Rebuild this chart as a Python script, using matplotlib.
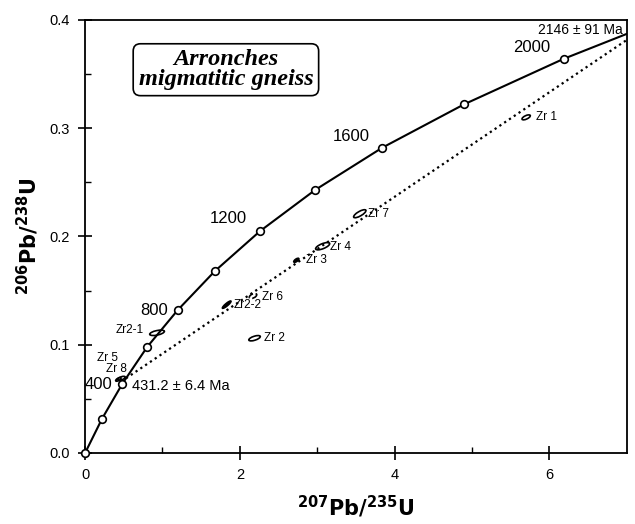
import matplotlib
matplotlib.use("Agg")
import matplotlib.pyplot as plt
from matplotlib.patches import Ellipse
from matplotlib.transforms import ScaledTranslation

plt.rcParams['font.family'] = ['Liberation Sans', 'DejaVu Sans']

# concordia markers (age in Ma, 207Pb/235U, 206Pb/238U)
ages = [0, 200, 400, 600, 800, 1000, 1200, 1400, 1600, 1800, 2000]
conc_x = [0.0, 0.218, 0.482, 0.803, 1.197, 1.677, 2.262, 2.974, 3.841, 4.897, 6.183]
conc_y = [0.0, 0.0315, 0.064, 0.098, 0.132, 0.168, 0.205, 0.243, 0.282, 0.322, 0.364]
labelled_ages = [400, 800, 1200, 1600, 2000]
# label offsets from the marker (dx, dy), text is right aligned
label_dx = [-0.13, -0.12, -0.17, -0.16, -0.17]
label_dy = [-0.001, 0.0, 0.0115, 0.0105, 0.0105]

# intercepts of the discordia
lower = (0.529, 0.069)
upper = (7.28, 0.395)

# zircon analyses: name, x, y, long axis px, short axis px, angle, style
zr_names = ['Zr 1', 'Zr 7', 'Zr 4', 'Zr 3', 'Zr 6', 'Zr2-2', 'Zr 2', 'Zr2-1', 'Zr 8', 'Zr 5']
zr_x = [5.70, 3.55, 3.07, 2.73, 2.17, 1.83, 2.19, 0.93, 0.47, 0.43]
zr_y = [0.310, 0.221, 0.191, 0.178, 0.145, 0.137, 0.106, 0.111, 0.069, 0.068]
zr_w = [9, 14, 15, 6, 8, 11, 12, 15, 8, 6]
zr_h = [3.5, 4.5, 5, 2.5, 4, 2.5, 4, 4.5, 3, 2.5]
zr_ang = [25, 30, 22, 35, 25, 40, 18, 12, 20, 30]
zr_fill = [False, False, False, True, False, True, False, False, False, False]
zr_dash = [False, False, False, False, True, False, False, False, False, False]
lab_x = [5.83, 3.66, 3.17, 2.86, 2.28, 1.92, 2.31, 0.76, 0.27, 0.16]
lab_y = [0.310, 0.221, 0.190, 0.178, 0.144, 0.137, 0.106, 0.1135, 0.0775, 0.0875]
lab_ha = ['left'] * 7 + ['right', 'left', 'left']

fig = plt.figure(figsize=(6.35, 5.24), dpi=100)
ax = fig.add_axes([0.134, 0.1355, 0.853, 0.8265])

# concordia curve
ax.plot(conc_x + [upper[0]], conc_y + [upper[1]], color='black', lw=1.5, zorder=3)
ax.plot(conc_x, conc_y, 'o', ms=5.5, mfc='white', mec='black', mew=1.2,
        zorder=4, clip_on=False)

# discordia
ax.plot([lower[0], upper[0]], [lower[1], upper[1]], color='black', lw=1.6,
        ls=(0, (1, 1.6)), zorder=2)

for a, dx, dy in zip(labelled_ages, label_dx, label_dy):
    i = ages.index(a)
    ax.text(conc_x[i] + dx, conc_y[i] + dy, str(a), fontsize=12,
            ha='right', va='center')

ax.text(lower[0] + 0.08, lower[1] - 0.007, '431.2 ± 6.4 Ma', fontsize=10.5,
        ha='left', va='center')
ax.text(6.95, 0.391, '2146 ± 91 Ma', fontsize=10, ha='right', va='center')

for i, name in enumerate(zr_names):
    tr = fig.dpi_scale_trans + ScaledTranslation(zr_x[i], zr_y[i], ax.transData)
    e = Ellipse((0, 0), zr_w[i] / 100, zr_h[i] / 100, angle=zr_ang[i],
                transform=tr, facecolor='black' if zr_fill[i] else 'none',
                edgecolor='black', lw=1.2, ls='--' if zr_dash[i] else '-',
                zorder=5)
    ax.add_patch(e)
    ax.text(lab_x[i], lab_y[i], name, fontsize=8.5, ha=lab_ha[i], va='center',
            family=['Liberation Sans Narrow', 'Liberation Sans'])

ax.text(0.26, 0.885, 'Arronches\nmigmatitic gneiss', transform=ax.transAxes,
        ha='center', va='center', fontsize=17.5, fontweight='bold',
        fontstyle='italic', family=['Liberation Serif'], linespacing=0.95,
        bbox=dict(boxstyle='round,pad=0.22,rounding_size=0.3', fc='white',
                  ec='black', lw=1.2))

ax.set_xlim(0, 7)
ax.set_ylim(0, 0.4)
ax.set_xticks([0, 2, 4, 6])
ax.set_xticks([1, 3, 5], minor=True)
ax.set_yticks([0.0, 0.1, 0.2, 0.3, 0.4])
ax.set_yticklabels(['0.0', '0.1', '0.2', '0.3', '0.4'])
ax.set_yticks([0.05, 0.15, 0.25, 0.35], minor=True)
ax.tick_params(which='major', direction='inout', length=10, width=1.2,
               labelsize=10.5, pad=6)
ax.tick_params(which='minor', direction='in', length=4, width=1.0)
for s in ax.spines.values():
    s.set_linewidth(1.3)

ax.set_xlabel(r'$\mathbf{^{207}Pb/^{235}U}$', fontsize=15, labelpad=8)
ax.set_ylabel(r'$\mathbf{^{206}Pb/^{238}U}$', fontsize=15, labelpad=6)

fig.savefig('out.png', dpi=100)
